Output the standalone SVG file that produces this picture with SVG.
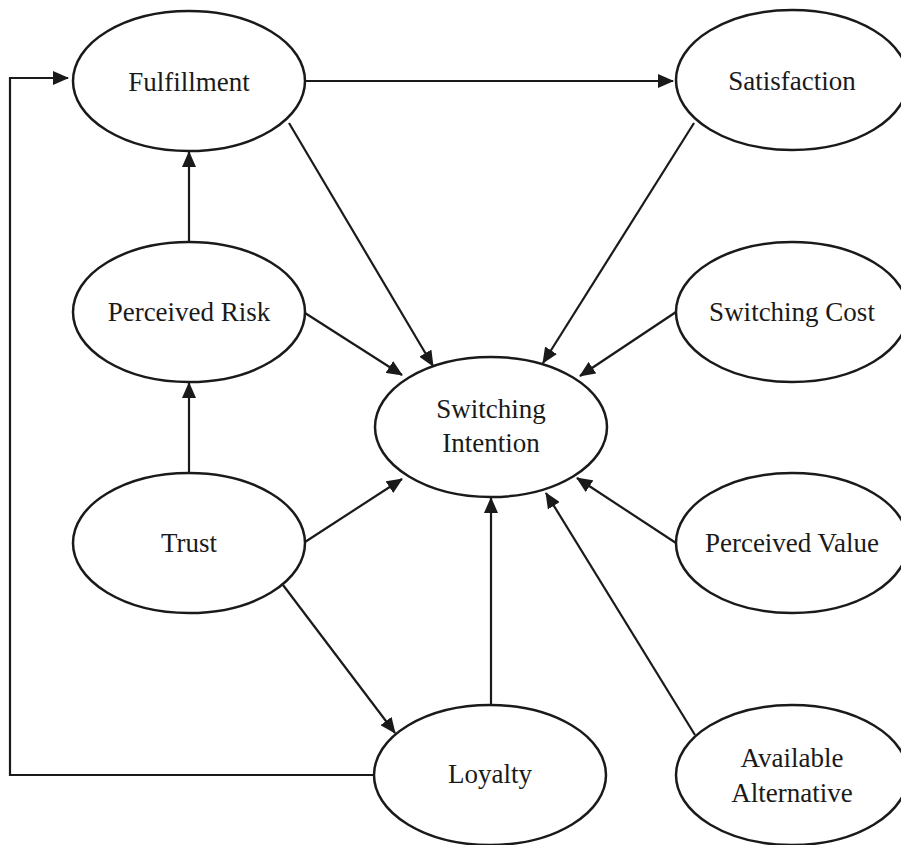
<svg xmlns="http://www.w3.org/2000/svg" width="901" height="845" viewBox="0 0 901 845">
<style>
.n ellipse{fill:#fff;stroke:#1a1a1a;stroke-width:2.5}
.n text{font-family:"Liberation Serif","Times New Roman",serif;font-size:27px;fill:#1a1a1a;text-anchor:middle}
.c line,.c polyline{stroke:#1a1a1a;stroke-width:2.2;fill:none}
.a{marker-end:url(#ah)}
</style>
<defs>
<marker id="ah" markerUnits="userSpaceOnUse" markerWidth="16" markerHeight="14" refX="15" refY="7" orient="auto" viewBox="0 0 16 14">
<path d="M0,0 L16,7 L0,14 z" fill="#1a1a1a"/>
</marker>
</defs>
<rect width="901" height="845" fill="#fff"/>
<g class="c">
<polyline class="a" points="373,775 10,775 10,78 68,78"/>
<line class="a" x1="305" y1="81" x2="673" y2="81"/>
<line class="a" x1="189" y1="242" x2="189" y2="152"/>
<line class="a" x1="189" y1="473" x2="189" y2="383"/>
<line class="a" x1="289" y1="123" x2="433" y2="366"/>
<line class="a" x1="305" y1="313" x2="402" y2="375"/>
<line class="a" x1="305" y1="542" x2="402" y2="479"/>
<line class="a" x1="694" y1="123" x2="543" y2="363"/>
<line class="a" x1="676" y1="312" x2="580" y2="376"/>
<line class="a" x1="676" y1="543" x2="577" y2="478"/>
<line class="a" x1="491" y1="705" x2="491" y2="498"/>
<line class="a" x1="695" y1="735" x2="546" y2="493"/>
<line class="a" x1="283" y1="585" x2="395" y2="733"/>
</g>
<g id="fulfillment" class="n"><ellipse cx="189" cy="81" rx="116" ry="70"/><text x="189" y="91">Fulfillment</text></g>
<g id="satisfaction" class="n"><ellipse cx="792" cy="80" rx="116" ry="70"/><text x="792" y="90">Satisfaction</text></g>
<g id="perceived-risk" class="n"><ellipse cx="189" cy="312" rx="116" ry="70"/><text x="189" y="321">Perceived Risk</text></g>
<g id="switching-cost" class="n"><ellipse cx="792" cy="312" rx="116" ry="70"/><text x="792" y="321">Switching Cost</text></g>
<g id="switching-intention" class="n"><ellipse cx="491" cy="427" rx="116" ry="70"/><text x="491" y="418">Switching</text><text x="491" y="452">Intention</text></g>
<g id="trust" class="n"><ellipse cx="189" cy="543" rx="116" ry="70"/><text x="189" y="552">Trust</text></g>
<g id="perceived-value" class="n"><ellipse cx="792" cy="543" rx="116" ry="70"/><text x="792" y="552">Perceived Value</text></g>
<g id="loyalty" class="n"><ellipse cx="490" cy="775" rx="116" ry="70"/><text x="490" y="783">Loyalty</text></g>
<g id="available-alternative" class="n"><ellipse cx="792" cy="775" rx="116" ry="70"/><text x="792" y="767">Available</text><text x="792" y="802">Alternative</text></g>
</svg>
